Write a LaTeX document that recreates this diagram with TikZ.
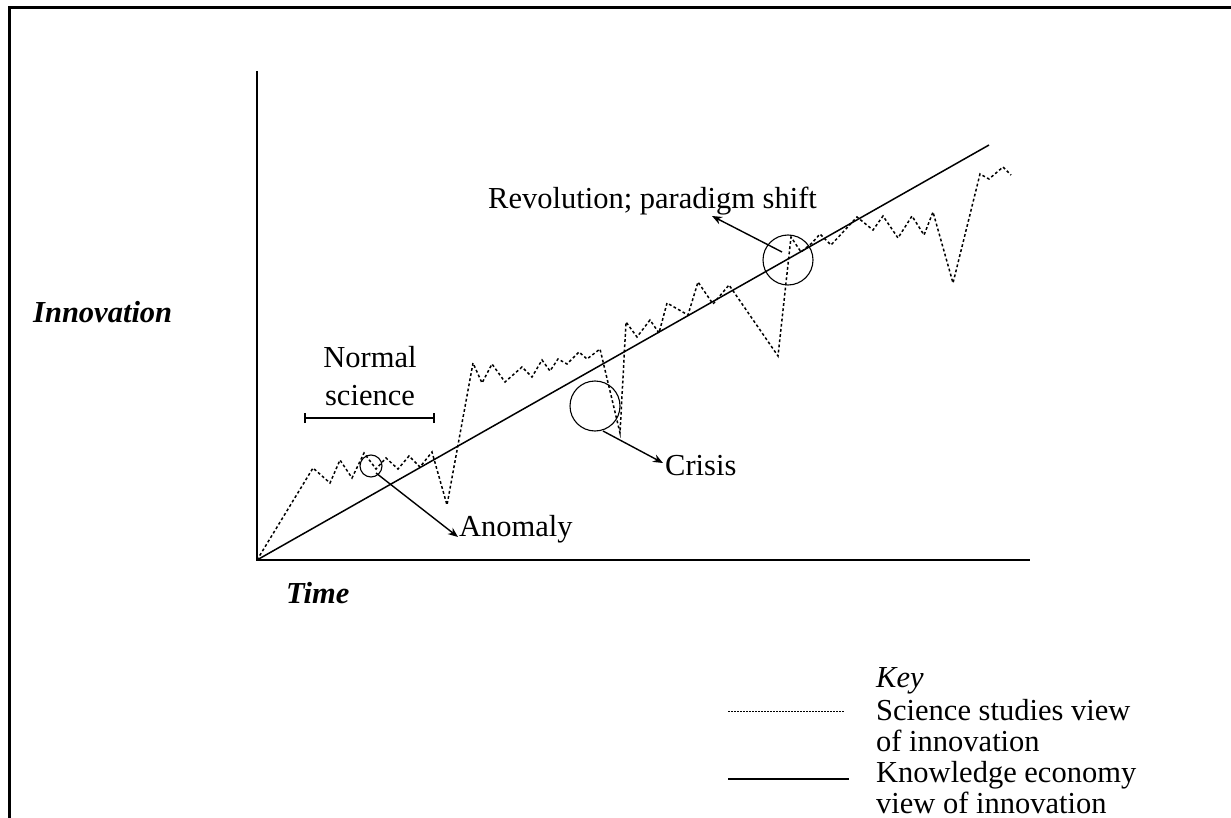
\documentclass[tikz,border=0pt]{standalone}
\usepackage{fontspec}
\setmainfont{Liberation Serif}
\usetikzlibrary{arrows.meta}
\begin{document}
\begin{tikzpicture}[x=1pt,y=-1pt,
  axis/.style={line width=1.5pt},
  sci/.style={line width=1.5pt, dash pattern=on 2.8pt off 2.4pt},
  ring/.style={line width=1.1pt},
  ptr/.style={line width=1.4pt,-{Stealth[length=10pt,width=8pt]}},
  lbl/.style={font=\fontsize{30.5}{36}\selectfont, inner sep=0pt},
  keytxt/.style={font=\fontsize{30.5}{36}\selectfont, inner sep=0pt, anchor=base west}]
\useasboundingbox (0,0) rectangle (1231,818);
\clip (0,0) rectangle (1231,818);
% frame
\draw[line width=3pt] (9,830) -- (9,8) -- (1245,8);
% axes
\coordinate (O) at (257,560);
\coordinate (ytop) at (257,71);
\coordinate (xend) at (1030,560);
\coordinate (kend) at (989,145);
\draw[axis] (ytop) -- (O) -- (xend);
% knowledge economy line
\draw[axis] (O) -- (kend);
% science studies line
\draw[sci] (O) -- (313,468) -- (330,483) -- (340,460) -- (352,478) -- (364,453) -- (376,469) -- (386,458) -- (398,469) -- (409,456) -- (420,467) -- (432,452) -- (447,505) -- (473,363) -- (482,383) -- (492,364) -- (505,382) -- (522,367) -- (532,377) -- (542,360) -- (550,371) -- (558,359) -- (567,364) -- (579,352) -- (587,359) -- (600,349) -- (620,433) -- (626,322) -- (637,337) -- (650,320) -- (659,333) -- (667,303) -- (688,315) -- (698,282) -- (713,304) -- (729,285) -- (778,356) -- (791,237) -- (801,252) -- (812,243) -- (820,234) -- (831,245) -- (857,217) -- (873,230) -- (883,216) -- (898,238) -- (912,216) -- (924,235) -- (933,212) -- (953,283) -- (980,174) -- (989,179) -- (1003,167) -- (1011,175);
% axis labels
\node[lbl, anchor=base west, font=\fontsize{30.5}{36}\selectfont\bfseries\itshape] (inn) at (33,322) {Innovation};
\node[lbl, anchor=base west, font=\fontsize{30.5}{36}\selectfont\bfseries\itshape] (time) at (286,603) {Time};
% normal science
\node[lbl, anchor=base] (ns1) at (370,367) {Normal};
\node[lbl, anchor=base] (ns2) at (370,405) {science};
\coordinate (nsl) at (305,418);
\coordinate (nsr) at (434,418);
\draw[line width=1.5pt] (nsl) -- (nsr);
\draw[line width=1.5pt] ([yshift=-5pt]nsl) -- ([yshift=5pt]nsl);
\draw[line width=1.5pt] ([yshift=-5pt]nsr) -- ([yshift=5pt]nsr);
% circles
\node[ring, draw, circle, minimum size=22pt, inner sep=0pt] (ca) at (371,466) {};
\node[ring, draw, circle, minimum size=50pt, inner sep=0pt] (cc) at (595,406) {};
\node[ring, draw, circle, minimum size=50pt, inner sep=0pt] (cr) at (788,260) {};
% labels
\node[lbl, anchor=base west] (anom) at (459,536) {Anomaly};
\node[lbl, anchor=base west] (cris) at (665,475) {Crisis};
\node[lbl, anchor=base west] (rev) at (488,209) {Revolution; paradigm shift};
% pointers
\coordinate (pa) at (376,473);
\coordinate (ta) at (458,537);
\draw[ptr] (pa) -- (ta);
\coordinate (pc) at (603,431);
\coordinate (tc) at (663,463);
\draw[ptr] (pc) -- (tc);
\coordinate (pr) at (782,252);
\coordinate (tr) at (712,216);
\draw[ptr] (pr) -- (tr);
% key
\node[keytxt, font=\fontsize{30.5}{36}\selectfont\itshape] (key) at (876,687) {Key};
\node[keytxt] (k1) at (876,720) {Science studies view};
\node[keytxt] (k2) at (876,751) {of innovation};
\node[keytxt] (k3) at (876,782) {Knowledge economy};
\node[keytxt] (k4) at (876,813) {view of innovation};
\coordinate (d1) at (728,711);
\coordinate (d2) at (845,711);
\draw[line width=1pt, dash pattern=on 1.5pt off 1.5pt] (d1) -- (d2);
\coordinate (s1) at (728,779);
\coordinate (s2) at (849,779);
\draw[line width=1.5pt] (s1) -- (s2);
\end{tikzpicture}
\end{document}
